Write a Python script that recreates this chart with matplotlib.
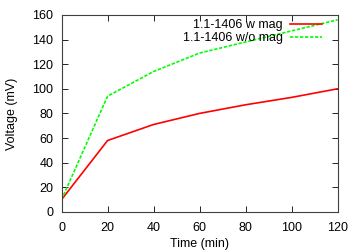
import matplotlib.pyplot as plt

# values
time_min = [0, 20, 40, 60, 80, 100, 120]
with_mag = [10, 58, 71, 80, 87, 93, 100]
without_mag = [10, 94, 114, 129, 138, 147, 156]

x_ticks = [0, 20, 40, 60, 80, 100, 120]
y_ticks = [0, 20, 40, 60, 80, 100, 120, 140, 160]

plt.rcParams['font.family'] = ['Liberation Sans', 'DejaVu Sans']
plt.rcParams['font.size'] = 9

fig = plt.figure(figsize=(3.6, 2.52), dpi=100)
ax = fig.add_axes([0.171, 0.159, 0.767, 0.782])

ax.plot(time_min, with_mag, color='#ff0000', linewidth=1.2, label='1.1-1406 w mag')
ax.plot(time_min, without_mag, color='#00ff00', linewidth=1.2, linestyle=(0, (2, 1)),
        label='1.1-1406 w/o mag')

ax.set_xlim(0, 120)
ax.set_ylim(0, 160)
ax.set_xticks(x_ticks)
ax.set_yticks(y_ticks)
ax.tick_params(direction='in', top=True, right=True, length=4, width=0.6,
               colors='black')
ax.tick_params(axis='x', pad=7)
ax.tick_params(axis='y', pad=6)
for s in ax.spines.values():
    s.set_linewidth(0.8)
    s.set_color('#404040')

ax.set_xlabel('Time (min)', labelpad=3)
ax.set_ylabel('Voltage (mV)', labelpad=10)

ax.legend(loc='upper right', frameon=False, markerfirst=False, handlelength=2.6,
          borderaxespad=0.0, borderpad=0.2, labelspacing=0.05, handletextpad=0.55,
          bbox_to_anchor=(0.953, 0.99))

fig.savefig('out.png', dpi=100)
